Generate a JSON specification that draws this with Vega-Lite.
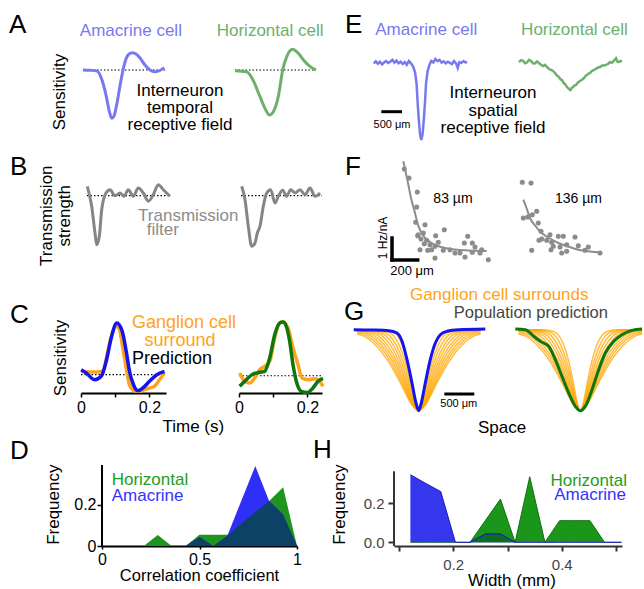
{
"$schema":"https://vega.github.io/schema/vega-lite/v6.json",
"padding":0,
"background":"white",
"bounds":"full",
"spacing":0,
"config":{"font":"Liberation Sans","view":{"stroke":null}},
"datasets":{
"gOrange":[
{"c":1,"x":-1030,"s":0},{"c":1,"x":-650,"s":0},{"c":1,"x":-470,"s":-0.015},{"c":1,"x":-360,"s":-0.07},{"c":1,"x":-275,"s":-0.19},{"c":1,"x":-190,"s":-0.4},{"c":1,"x":-110,"s":-0.68},{"c":1,"x":-45,"s":-0.92},{"c":1,"x":0,"s":-1},{"c":1,"x":45,"s":-0.92},{"c":1,"x":110,"s":-0.68},{"c":1,"x":190,"s":-0.4},{"c":1,"x":275,"s":-0.19},{"c":1,"x":360,"s":-0.07},{"c":1,"x":470,"s":-0.015},{"c":1,"x":650,"s":0},{"c":1,"x":1030,"s":0},
{"c":2,"x":-1030,"s":0},{"c":2,"x":-767,"s":0},{"c":2,"x":-555,"s":-0.015},{"c":2,"x":-425,"s":-0.07},{"c":2,"x":-325,"s":-0.19},{"c":2,"x":-224,"s":-0.4},{"c":2,"x":-130,"s":-0.68},{"c":2,"x":-53,"s":-0.92},{"c":2,"x":0,"s":-1},{"c":2,"x":53,"s":-0.92},{"c":2,"x":130,"s":-0.68},{"c":2,"x":224,"s":-0.4},{"c":2,"x":325,"s":-0.19},{"c":2,"x":425,"s":-0.07},{"c":2,"x":555,"s":-0.015},{"c":2,"x":767,"s":0},{"c":2,"x":1030,"s":0},
{"c":3,"x":-1030,"s":0},{"c":3,"x":-884,"s":0},{"c":3,"x":-639,"s":-0.015},{"c":3,"x":-490,"s":-0.07},{"c":3,"x":-374,"s":-0.19},{"c":3,"x":-258,"s":-0.4},{"c":3,"x":-150,"s":-0.68},{"c":3,"x":-61,"s":-0.92},{"c":3,"x":0,"s":-1},{"c":3,"x":61,"s":-0.92},{"c":3,"x":150,"s":-0.68},{"c":3,"x":258,"s":-0.4},{"c":3,"x":374,"s":-0.19},{"c":3,"x":490,"s":-0.07},{"c":3,"x":639,"s":-0.015},{"c":3,"x":884,"s":0},{"c":3,"x":1030,"s":0},
{"c":4,"x":-1030,"s":0},{"c":4,"x":-1001,"s":0},{"c":4,"x":-724,"s":-0.015},{"c":4,"x":-554,"s":-0.07},{"c":4,"x":-424,"s":-0.19},{"c":4,"x":-293,"s":-0.4},{"c":4,"x":-169,"s":-0.68},{"c":4,"x":-69,"s":-0.92},{"c":4,"x":0,"s":-1},{"c":4,"x":69,"s":-0.92},{"c":4,"x":169,"s":-0.68},{"c":4,"x":293,"s":-0.4},{"c":4,"x":424,"s":-0.19},{"c":4,"x":554,"s":-0.07},{"c":4,"x":724,"s":-0.015},{"c":4,"x":1001,"s":0},{"c":4,"x":1030,"s":0},
{"c":5,"x":-1030,"s":-0.004},{"c":5,"x":-808,"s":-0.015},{"c":5,"x":-619,"s":-0.07},{"c":5,"x":-473,"s":-0.19},{"c":5,"x":-327,"s":-0.4},{"c":5,"x":-189,"s":-0.68},{"c":5,"x":-77,"s":-0.92},{"c":5,"x":0,"s":-1},{"c":5,"x":77,"s":-0.92},{"c":5,"x":189,"s":-0.68},{"c":5,"x":327,"s":-0.4},{"c":5,"x":473,"s":-0.19},{"c":5,"x":619,"s":-0.07},{"c":5,"x":808,"s":-0.015},{"c":5,"x":1030,"s":-0.004},
{"c":6,"x":-1030,"s":-0.009},{"c":6,"x":-893,"s":-0.015},{"c":6,"x":-684,"s":-0.07},{"c":6,"x":-523,"s":-0.19},{"c":6,"x":-361,"s":-0.4},{"c":6,"x":-209,"s":-0.68},{"c":6,"x":-86,"s":-0.92},{"c":6,"x":0,"s":-1},{"c":6,"x":86,"s":-0.92},{"c":6,"x":209,"s":-0.68},{"c":6,"x":361,"s":-0.4},{"c":6,"x":523,"s":-0.19},{"c":6,"x":684,"s":-0.07},{"c":6,"x":893,"s":-0.015},{"c":6,"x":1030,"s":-0.009},
{"c":7,"x":-1030,"s":-0.013},{"c":7,"x":-978,"s":-0.015},{"c":7,"x":-749,"s":-0.07},{"c":7,"x":-572,"s":-0.19},{"c":7,"x":-395,"s":-0.4},{"c":7,"x":-229,"s":-0.68},{"c":7,"x":-94,"s":-0.92},{"c":7,"x":0,"s":-1},{"c":7,"x":94,"s":-0.92},{"c":7,"x":229,"s":-0.68},{"c":7,"x":395,"s":-0.4},{"c":7,"x":572,"s":-0.19},{"c":7,"x":749,"s":-0.07},{"c":7,"x":978,"s":-0.015},{"c":7,"x":1030,"s":-0.013},
{"c":8,"x":-1030,"s":-0.022},{"c":8,"x":-814,"s":-0.07},{"c":8,"x":-622,"s":-0.19},{"c":8,"x":-429,"s":-0.4},{"c":8,"x":-249,"s":-0.68},{"c":8,"x":-102,"s":-0.92},{"c":8,"x":0,"s":-1},{"c":8,"x":102,"s":-0.92},{"c":8,"x":249,"s":-0.68},{"c":8,"x":429,"s":-0.4},{"c":8,"x":622,"s":-0.19},{"c":8,"x":814,"s":-0.07},{"c":8,"x":1030,"s":-0.022},
{"c":9,"x":-1030,"s":-0.039},{"c":9,"x":-878,"s":-0.07},{"c":9,"x":-671,"s":-0.19},{"c":9,"x":-464,"s":-0.4},{"c":9,"x":-268,"s":-0.68},{"c":9,"x":-110,"s":-0.92},{"c":9,"x":0,"s":-1},{"c":9,"x":110,"s":-0.92},{"c":9,"x":268,"s":-0.68},{"c":9,"x":464,"s":-0.4},{"c":9,"x":671,"s":-0.19},{"c":9,"x":878,"s":-0.07},{"c":9,"x":1030,"s":-0.039},
{"c":10,"x":-1030,"s":-0.053},{"c":10,"x":-943,"s":-0.07},{"c":10,"x":-721,"s":-0.19},{"c":10,"x":-498,"s":-0.4},{"c":10,"x":-288,"s":-0.68},{"c":10,"x":-118,"s":-0.92},{"c":10,"x":0,"s":-1},{"c":10,"x":118,"s":-0.92},{"c":10,"x":288,"s":-0.68},{"c":10,"x":498,"s":-0.4},{"c":10,"x":721,"s":-0.19},{"c":10,"x":943,"s":-0.07},{"c":10,"x":1030,"s":-0.053}
]
},
"vconcat":[
{"bounds":"flush","spacing":0,"hconcat":[
{"width":200,"height":142,"layer":[
{"data":{"values":[{}]},"mark":{"type":"rule","color":"black","strokeDash":[1.5,2],"strokeWidth":1.2},"encoding":{"x":{"datum":0,"type":"quantitative","scale":{"domain":[-0.25305,0.35671],"nice":false,"zero":false},"axis":null},"x2":{"datum":0.25},"y":{"datum":0,"type":"quantitative","scale":{"domain":[-1.5,1.4583],"nice":false,"zero":false},"axis":null}}},
{"data":{"values":[{"t":0,"s":0},{"t":0.0213,"s":-0.006},{"t":0.0427,"s":-0.021},{"t":0.0579,"s":-0.208},{"t":0.0701,"s":-0.521},{"t":0.0793,"s":-0.833},{"t":0.0875,"s":-1.006},{"t":0.0945,"s":-0.958},{"t":0.1037,"s":-0.688},{"t":0.1128,"s":-0.333},{"t":0.122,"s":0},{"t":0.1311,"s":0.229},{"t":0.1402,"s":0.333},{"t":0.1515,"s":0.36},{"t":0.1616,"s":0.333},{"t":0.1738,"s":0.25},{"t":0.189,"s":0.104},{"t":0.2043,"s":0},{"t":0.2195,"s":-0.035},{"t":0.2348,"s":-0.01},{"t":0.247,"s":0.048}]},"mark":{"type":"line","color":"#7878f0","strokeWidth":3,"interpolate":"monotone"},"encoding":{"x":{"field":"t","type":"quantitative","axis":null},"y":{"field":"s","type":"quantitative","axis":null}}},
{"data":{"values":[{}]},"mark":{"type":"text","text":"A","fontSize":26,"align":"left","baseline":"alphabetic","color":"black"},"encoding":{"x":{"datum":-0.2256,"type":"quantitative","axis":null},"y":{"datum":0.771,"type":"quantitative","axis":null}}},
{"data":{"values":[{}]},"mark":{"type":"text","text":"Sensitivity","fontSize":17,"angle":270,"align":"center","baseline":"middle","color":"black"},"encoding":{"x":{"datum":-0.0701,"type":"quantitative","axis":null},"y":{"datum":-0.458,"type":"quantitative","axis":null}}},
{"data":{"values":[{}]},"mark":{"type":"text","text":"Amacrine cell","fontSize":17,"align":"center","baseline":"alphabetic","color":"#7878f0"},"encoding":{"x":{"datum":0.146,"type":"quantitative","axis":null},"y":{"datum":0.708,"type":"quantitative","axis":null}}},
{"data":{"values":[{}]},"mark":{"type":"text","text":"Interneuron","fontSize":17,"align":"center","baseline":"alphabetic","color":"black"},"encoding":{"x":{"datum":0.2957,"type":"quantitative","axis":null},"y":{"datum":-0.552,"type":"quantitative","axis":null}}},
{"data":{"values":[{}]},"mark":{"type":"text","text":"temporal","fontSize":17,"align":"center","baseline":"alphabetic","color":"black"},"encoding":{"x":{"datum":0.2957,"type":"quantitative","axis":null},"y":{"datum":-0.896,"type":"quantitative","axis":null}}},
{"data":{"values":[{}]},"mark":{"type":"text","text":"receptive field","fontSize":17,"align":"center","baseline":"alphabetic","color":"black"},"encoding":{"x":{"datum":0.2957,"type":"quantitative","axis":null},"y":{"datum":-1.24,"type":"quantitative","axis":null}}}
]},
{"width":122,"height":142,"layer":[
{"data":{"values":[{}]},"mark":{"type":"rule","color":"black","strokeDash":[1.5,2],"strokeWidth":1.2},"encoding":{"x":{"datum":0,"type":"quantitative","scale":{"domain":[-0.10671,0.26524],"nice":false,"zero":false},"axis":null},"x2":{"datum":0.247},"y":{"datum":0,"type":"quantitative","scale":{"domain":[-1.5,1.4583],"nice":false,"zero":false},"axis":null}}},
{"data":{"values":[{"t":0,"s":-0.015},{"t":0.0357,"s":-0.035},{"t":0.0549,"s":-0.208},{"t":0.0762,"s":-0.556},{"t":0.0966,"s":-0.869},{"t":0.1046,"s":-0.938},{"t":0.1168,"s":-0.869},{"t":0.132,"s":-0.556},{"t":0.1454,"s":0},{"t":0.1576,"s":0.277},{"t":0.1759,"s":0.431},{"t":0.193,"s":0.348},{"t":0.2134,"s":0.173},{"t":0.2339,"s":0.048},{"t":0.247,"s":0}]},"mark":{"type":"line","color":"#6cb06c","strokeWidth":3,"interpolate":"monotone"},"encoding":{"x":{"field":"t","type":"quantitative","axis":null},"y":{"field":"s","type":"quantitative","axis":null}}},
{"data":{"values":[{}]},"mark":{"type":"text","text":"Horizontal cell","fontSize":17,"align":"center","baseline":"alphabetic","color":"#6cb06c"},"encoding":{"x":{"datum":0.107,"type":"quantitative","axis":null},"y":{"datum":0.708,"type":"quantitative","axis":null}}}
]},
{"width":148,"height":142,"layer":[
{"data":{"values":[{"x":-1150,"s":0},{"x":-1100,"s":0.025},{"x":-1050,"s":-0.005},{"x":-1000,"s":0.02},{"x":-950,"s":-0.015},{"x":-900,"s":0.01},{"x":-850,"s":0.03},{"x":-800,"s":0.005},{"x":-750,"s":0.02},{"x":-700,"s":0.045},{"x":-650,"s":0.01},{"x":-600,"s":0.035},{"x":-550,"s":0},{"x":-500,"s":0.02},{"x":-450,"s":-0.01},{"x":-400,"s":0.015},{"x":-350,"s":-0.02},{"x":-300,"s":0.03},{"x":-250,"s":0},{"x":-200,"s":-0.04},{"x":-150,"s":-0.12},{"x":-115,"s":-0.26},{"x":-90,"s":-0.5},{"x":-60,"s":-0.74},{"x":-30,"s":-0.93},{"x":0,"s":-1},{"x":30,"s":-0.93},{"x":60,"s":-0.74},{"x":90,"s":-0.5},{"x":115,"s":-0.26},{"x":150,"s":-0.11},{"x":190,"s":-0.03},{"x":240,"s":0.03},{"x":290,"s":0.01},{"x":340,"s":0.055},{"x":390,"s":0.03},{"x":440,"s":0.045},{"x":490,"s":0.01},{"x":540,"s":0.025},{"x":590,"s":0},{"x":640,"s":0.02},{"x":690,"s":0.005},{"x":740,"s":-0.01},{"x":790,"s":0.03},{"x":840,"s":0},{"x":880,"s":-0.06},{"x":920,"s":0.015},{"x":970,"s":0.005},{"x":1020,"s":0.03},{"x":1070,"s":0.01},{"x":1104,"s":0.02}]},"mark":{"type":"line","color":"#7878f0","strokeWidth":2.5,"interpolate":"linear"},"encoding":{"x":{"field":"x","type":"quantitative","scale":{"domain":[-2398.1,1176.1],"nice":false,"zero":false},"axis":null},"y":{"field":"s","type":"quantitative","scale":{"domain":[-1.0261,0.8253],"nice":false,"zero":false},"axis":null}}},
{"data":{"values":[{}]},"mark":{"type":"rule","color":"black","strokeWidth":3},"encoding":{"x":{"datum":-966,"type":"quantitative","axis":null},"x2":{"datum":-466},"y":{"datum":-0.631,"type":"quantitative","axis":null}}},
{"data":{"values":[{}]},"mark":{"type":"text","text":"500 μm","fontSize":11,"align":"center","baseline":"alphabetic","color":"black"},"encoding":{"x":{"datum":-708,"type":"quantitative","axis":null},"y":{"datum":-0.844,"type":"quantitative","axis":null}}},
{"data":{"values":[{}]},"mark":{"type":"text","text":"E","fontSize":26,"align":"left","baseline":"alphabetic","color":"black"},"encoding":{"x":{"datum":-1843,"type":"quantitative","axis":null},"y":{"datum":0.395,"type":"quantitative","axis":null}}},
{"data":{"values":[{}]},"mark":{"type":"text","text":"Amacrine cell","fontSize":17,"align":"center","baseline":"alphabetic","color":"#7878f0"},"encoding":{"x":{"datum":118,"type":"quantitative","axis":null},"y":{"datum":0.369,"type":"quantitative","axis":null}}},
{"data":{"values":[{}]},"mark":{"type":"text","text":"Interneuron","fontSize":17,"align":"center","baseline":"alphabetic","color":"black"},"encoding":{"x":{"datum":1731,"type":"quantitative","axis":null},"y":{"datum":-0.452,"type":"quantitative","axis":null}}},
{"data":{"values":[{}]},"mark":{"type":"text","text":"spatial","fontSize":17,"align":"center","baseline":"alphabetic","color":"black"},"encoding":{"x":{"datum":1731,"type":"quantitative","axis":null},"y":{"datum":-0.681,"type":"quantitative","axis":null}}},
{"data":{"values":[{}]},"mark":{"type":"text","text":"receptive field","fontSize":17,"align":"center","baseline":"alphabetic","color":"black"},"encoding":{"x":{"datum":1731,"type":"quantitative","axis":null},"y":{"datum":-0.909,"type":"quantitative","axis":null}}}
]},
{"width":174,"height":142,"layer":[
{"data":{"values":[{"x":-1239,"s":0.017},{"x":-1190,"s":0.04},{"x":-1142,"s":0.036},{"x":-1094,"s":0},{"x":-1046,"s":0.01},{"x":-997,"s":0.045},{"x":-949,"s":0.03},{"x":-900,"s":0},{"x":-853,"s":-0.003},{"x":-805,"s":0.025},{"x":-756,"s":0.004},{"x":-708,"s":-0.02},{"x":-659,"s":-0.035},{"x":-611,"s":-0.02},{"x":-563,"s":-0.048},{"x":-514,"s":-0.075},{"x":-466,"s":-0.087},{"x":-418,"s":-0.1},{"x":-369,"s":-0.126},{"x":-320,"s":-0.16},{"x":-273,"s":-0.179},{"x":-236,"s":-0.21},{"x":-200,"s":-0.218},{"x":-164,"s":-0.255},{"x":-128,"s":-0.27},{"x":-92,"s":-0.3},{"x":-56,"s":-0.322},{"x":-20,"s":-0.34},{"x":5,"s":-0.348},{"x":35,"s":-0.32},{"x":65,"s":-0.309},{"x":100,"s":-0.29},{"x":138,"s":-0.283},{"x":186,"s":-0.25},{"x":234,"s":-0.231},{"x":283,"s":-0.215},{"x":331,"s":-0.192},{"x":379,"s":-0.16},{"x":427,"s":-0.14},{"x":476,"s":-0.125},{"x":524,"s":-0.1},{"x":572,"s":-0.085},{"x":621,"s":-0.074},{"x":669,"s":-0.055},{"x":717,"s":-0.048},{"x":766,"s":-0.03},{"x":814,"s":-0.029},{"x":862,"s":-0.02},{"x":910,"s":-0.009},{"x":958,"s":0.015},{"x":1007,"s":0.01},{"x":1055,"s":0.035},{"x":1104,"s":0.065},{"x":1140,"s":0.02},{"x":1176,"s":0.017},{"x":1212,"s":0.03},{"x":1249,"s":0.023}]},"mark":{"type":"line","color":"#6cb06c","strokeWidth":2.5,"interpolate":"linear"},"encoding":{"x":{"field":"x","type":"quantitative","scale":{"domain":[-2422.2,1779.9],"nice":false,"zero":false},"axis":null},"y":{"field":"s","type":"quantitative","scale":{"domain":[-1.0261,0.8253],"nice":false,"zero":false},"axis":null}}},
{"data":{"values":[{}]},"mark":{"type":"text","text":"Horizontal cell","fontSize":17,"align":"center","baseline":"alphabetic","color":"#6cb06c"},"encoding":{"x":{"datum":101,"type":"quantitative","axis":null},"y":{"datum":0.369,"type":"quantitative","axis":null}}}
]}
]},
{"bounds":"flush","spacing":0,"hconcat":[
{"width":200,"height":138,"layer":[
{"data":{"values":[{}]},"mark":{"type":"rule","color":"black","strokeDash":[1.5,2],"strokeWidth":1.2},"encoding":{"x":{"datum":0,"type":"quantitative","scale":{"domain":[-0.26524,0.34451],"nice":false,"zero":false},"axis":null},"x2":{"datum":0.247},"y":{"datum":0,"type":"quantitative","scale":{"domain":[-1.782,1.0347],"nice":false,"zero":false},"axis":null}}},
{"data":{"values":[{"t":0.0009,"s":0.192},{"t":0.0143,"s":-0.216},{"t":0.0244,"s":-0.761},{"t":0.0296,"s":-1},{"t":0.0375,"s":-0.829},{"t":0.0448,"s":-0.286},{"t":0.0579,"s":0.055},{"t":0.0701,"s":0.122},{"t":0.0854,"s":0},{"t":0.1006,"s":0.055},{"t":0.1128,"s":-0.012},{"t":0.1259,"s":0.122},{"t":0.1412,"s":-0.012},{"t":0.1564,"s":0.157},{"t":0.1716,"s":0.055},{"t":0.1869,"s":-0.114},{"t":0.2021,"s":0.02},{"t":0.2174,"s":0.224},{"t":0.2326,"s":0.122},{"t":0.253,"s":-0.012}]},"mark":{"type":"line","color":"#858585","strokeWidth":3,"interpolate":"monotone"},"encoding":{"x":{"field":"t","type":"quantitative","axis":null},"y":{"field":"s","type":"quantitative","axis":null}}},
{"data":{"values":[{}]},"mark":{"type":"text","text":"B","fontSize":26,"align":"left","baseline":"alphabetic","color":"black"},"encoding":{"x":{"datum":-0.2348,"type":"quantitative","axis":null},"y":{"datum":0.429,"type":"quantitative","axis":null}}},
{"data":{"values":[{}]},"mark":{"type":"text","text":"Transmission","fontSize":17,"angle":270,"align":"center","baseline":"middle","color":"black"},"encoding":{"x":{"datum":-0.1229,"type":"quantitative","axis":null},"y":{"datum":-0.408,"type":"quantitative","axis":null}}},
{"data":{"values":[{}]},"mark":{"type":"text","text":"strength","fontSize":17,"angle":270,"align":"center","baseline":"middle","color":"black"},"encoding":{"x":{"datum":-0.0671,"type":"quantitative","axis":null},"y":{"datum":-0.408,"type":"quantitative","axis":null}}},
{"data":{"values":[{}]},"mark":{"type":"text","text":"Transmission","fontSize":17,"align":"center","baseline":"alphabetic","color":"#8c8c8c"},"encoding":{"x":{"datum":0.3088,"type":"quantitative","axis":null},"y":{"datum":-0.522,"type":"quantitative","axis":null}}},
{"data":{"values":[{}]},"mark":{"type":"text","text":"filter","fontSize":17,"align":"left","baseline":"alphabetic","color":"#8c8c8c"},"encoding":{"x":{"datum":0.182,"type":"quantitative","axis":null},"y":{"datum":-0.796,"type":"quantitative","axis":null}}}
]},
{"width":122,"height":138,"layer":[
{"data":{"values":[{}]},"mark":{"type":"rule","color":"black","strokeDash":[1.5,2],"strokeWidth":1.2},"encoding":{"x":{"datum":0,"type":"quantitative","scale":{"domain":[-0.125,0.24695],"nice":false,"zero":false},"axis":null},"x2":{"datum":0.247},"y":{"datum":0,"type":"quantitative","scale":{"domain":[-1.782,1.0347],"nice":false,"zero":false},"axis":null}}},
{"data":{"values":[{"t":0.0021,"s":0.192},{"t":0.0122,"s":-0.082},{"t":0.0223,"s":-0.624},{"t":0.0326,"s":-1.033},{"t":0.0427,"s":-0.965},{"t":0.0497,"s":-0.761},{"t":0.0579,"s":-0.624},{"t":0.068,"s":-0.216},{"t":0.0784,"s":0.055},{"t":0.0905,"s":0.122},{"t":0.1037,"s":-0.149},{"t":0.1137,"s":-0.012},{"t":0.1271,"s":0.11},{"t":0.1393,"s":-0.012},{"t":0.1515,"s":0.122},{"t":0.1646,"s":0.055},{"t":0.1799,"s":0.122},{"t":0.1951,"s":0.02},{"t":0.2104,"s":0.157},{"t":0.2256,"s":-0.012},{"t":0.2409,"s":0.055}]},"mark":{"type":"line","color":"#858585","strokeWidth":3,"interpolate":"monotone"},"encoding":{"x":{"field":"t","type":"quantitative","axis":null},"y":{"field":"s","type":"quantitative","axis":null}}}
]},
{"width":183,"height":138,"layer":[
{"data":{"values":[{"d":64.6,"h":4.486},{"d":101.1,"h":3.5},{"d":124.5,"h":2.818},{"d":155.6,"h":2.136},{"d":178.9,"h":1.591},{"d":207.7,"h":1.227},{"d":241.2,"h":0.955},{"d":285.5,"h":0.773},{"d":334.5,"h":0.636},{"d":389,"h":0.545},{"d":466.8,"h":0.477},{"d":544.6,"h":0.441},{"d":622.4,"h":0.423},{"d":713.4,"h":0.409}]},"mark":{"type":"line","color":"#8c8c8c","strokeWidth":2,"interpolate":"monotone"},"encoding":{"x":{"field":"d","type":"quantitative","scale":{"domain":[-567.9,855.8],"nice":false,"zero":false},"axis":null},"y":{"field":"h","type":"quantitative","scale":{"domain":[-1.045,5.227],"nice":false,"zero":false},"axis":null}}},
{"data":{"values":[{"d":72.4,"h":4.136},{"d":108.9,"h":3.727},{"d":173.5,"h":3.091},{"d":168.8,"h":2.409},{"d":161,"h":1.714},{"d":233.4,"h":1.605},{"d":181.3,"h":1.15},{"d":220.2,"h":1.227},{"d":202.3,"h":0.955},{"d":246.6,"h":0.895},{"d":316.6,"h":1.105},{"d":383.6,"h":1.377},{"d":228,"h":0.741},{"d":272.3,"h":0.695},{"d":311.2,"h":0.623},{"d":194.5,"h":0.468},{"d":254.4,"h":0.441},{"d":285.5,"h":0.468},{"d":375.8,"h":0.441},{"d":311.2,"h":0.091},{"d":466.8,"h":0.318},{"d":505.7,"h":0.318},{"d":539.2,"h":0.773},{"d":565.6,"h":1.077},{"d":601.4,"h":0.773},{"d":622.4,"h":0.591},{"d":601.4,"h":0.35},{"d":661.3,"h":0.318},{"d":544.6,"h":0.136},{"d":725.9,"h":0.014},{"d":176.6,"h":1.105},{"d":336.9,"h":0.805},{"d":427.9,"h":0.468},{"d":674.5,"h":0.468}]},"mark":{"type":"circle","color":"#8c8c8c","size":26,"opacity":1},"encoding":{"x":{"field":"d","type":"quantitative","axis":null},"y":{"field":"h","type":"quantitative","axis":null}}},
{"data":{"values":[{}]},"mark":{"type":"rule","color":"black","strokeWidth":3.5,"strokeCap":"square"},"encoding":{"x":{"datum":-23.3,"type":"quantitative","axis":null},"y":{"datum":0,"type":"quantitative","axis":null},"y2":{"datum":1}}},
{"data":{"values":[{}]},"mark":{"type":"rule","color":"black","strokeWidth":3.5,"strokeCap":"square"},"encoding":{"x":{"datum":-23.3,"type":"quantitative","axis":null},"x2":{"datum":176.7},"y":{"datum":0,"type":"quantitative","axis":null}}},
{"data":{"values":[{}]},"mark":{"type":"text","text":"F","fontSize":26,"align":"left","baseline":"alphabetic","color":"black"},"encoding":{"x":{"datum":-389,"type":"quantitative","axis":null},"y":{"datum":3.877,"type":"quantitative","axis":null}}},
{"data":{"values":[{}]},"mark":{"type":"text","text":"83 µm","fontSize":14,"align":"center","baseline":"alphabetic","color":"black"},"encoding":{"x":{"datum":451,"type":"quantitative","axis":null},"y":{"datum":2.59,"type":"quantitative","axis":null}}},
{"data":{"values":[{}]},"mark":{"type":"text","text":"1 Hz/nA","fontSize":12,"angle":270,"align":"center","baseline":"middle","color":"black"},"encoding":{"x":{"datum":-89.5,"type":"quantitative","axis":null},"y":{"datum":1.0,"type":"quantitative","axis":null}}},
{"data":{"values":[{}]},"mark":{"type":"text","text":"200 μm","fontSize":13,"align":"left","baseline":"alphabetic","color":"black"},"encoding":{"x":{"datum":-36.6,"type":"quantitative","axis":null},"y":{"datum":-0.668,"type":"quantitative","axis":null}}}
]},
{"width":139,"height":138,"layer":[
{"data":{"values":[{"d":64.6,"h":2.741},{"d":89.5,"h":2.364},{"d":116.7,"h":1.909},{"d":155.6,"h":1.568},{"d":207.7,"h":1.227},{"d":272.3,"h":0.977},{"d":336.9,"h":0.773},{"d":412.3,"h":0.614},{"d":492.5,"h":0.468},{"d":567.9,"h":0.395},{"d":648.1,"h":0.35}]},"mark":{"type":"line","color":"#8c8c8c","strokeWidth":2,"interpolate":"monotone"},"encoding":{"x":{"field":"d","type":"quantitative","scale":{"domain":[-77.8,1003.6],"nice":false,"zero":false},"axis":null},"y":{"field":"h","type":"quantitative","scale":{"domain":[-1.045,5.227],"nice":false,"zero":false},"axis":null}}},
{"data":{"values":[{"d":56.8,"h":3.532},{"d":124.5,"h":3.5},{"d":64.6,"h":1.909},{"d":98.8,"h":1.955},{"d":134.6,"h":2.059},{"d":168.8,"h":2.214},{"d":181.3,"h":1.682},{"d":202.3,"h":1.305},{"d":272.3,"h":1.15},{"d":336.9,"h":1.077},{"d":375.8,"h":1.077},{"d":207.7,"h":0.955},{"d":246.6,"h":0.895},{"d":285.5,"h":0.805},{"d":186.7,"h":0.895},{"d":298,"h":0.623},{"d":350.1,"h":0.591},{"d":402.2,"h":0.695},{"d":466.8,"h":1.045},{"d":492.5,"h":0.65},{"d":570.3,"h":0.591},{"d":544.6,"h":0.441},{"d":402.2,"h":0.395},{"d":363.3,"h":0.318},{"d":280.1,"h":0.468},{"d":129.9,"h":0.441},{"d":661.3,"h":0.318}]},"mark":{"type":"circle","color":"#8c8c8c","size":26,"opacity":1},"encoding":{"x":{"field":"d","type":"quantitative","axis":null},"y":{"field":"h","type":"quantitative","axis":null}}},
{"data":{"values":[{}]},"mark":{"type":"text","text":"136 µm","fontSize":14,"align":"center","baseline":"alphabetic","color":"black"},"encoding":{"x":{"datum":494,"type":"quantitative","axis":null},"y":{"datum":2.59,"type":"quantitative","axis":null}}}
]}
]},
{"bounds":"flush","spacing":0,"hconcat":[
{"width":81,"height":154,"layer":[
{"data":{"values":[{}]},"mark":{"type":"rule","color":"black","strokeDash":[1.5,2],"strokeWidth":1.2},"encoding":{"x":{"datum":0,"type":"quantitative","scale":{"domain":[-0.2365,0],"nice":false,"zero":false},"axis":null},"x2":{"datum":0.2438},"y":{"datum":0,"type":"quantitative","scale":{"domain":[-1.189,1.75],"nice":false,"zero":false},"axis":null}}},
{"data":{"values":[{}]},"mark":{"type":"text","text":"C","fontSize":26,"align":"left","baseline":"alphabetic","color":"black"},"encoding":{"x":{"datum":-0.207,"type":"quantitative","axis":null},"y":{"datum":0.987,"type":"quantitative","axis":null}}},
{"data":{"values":[{}]},"mark":{"type":"text","text":"Sensitivity","fontSize":17,"angle":270,"align":"center","baseline":"middle","color":"black"},"encoding":{"x":{"datum":-0.059,"type":"quantitative","axis":null},"y":{"datum":0.319,"type":"quantitative","axis":null}}},
{"data":{"values":[{}]},"mark":{"type":"text","text":"Time (s)","fontSize":17,"align":"center","baseline":"alphabetic","color":"black"},"encoding":{"x":{"datum":0.328,"type":"quantitative","axis":null},"y":{"datum":-1.093,"type":"quantitative","axis":null}}}
]},
{"width":85,"height":110,
"encoding":{"x":{"field":"t","type":"quantitative","scale":{"domain":[0,0.24818],"nice":false,"zero":false},"axis":{"values":[0,0.1,0.2],"labelExpr":"datum.value < 0.05 ? '0' : (datum.value > 0.15 ? '0.2' : '')","title":null,"grid":false,"domainColor":"black","domainWidth":2,"tickColor":"black","tickWidth":1.5,"tickSize":4,"labelFontSize":16,"labelColor":"black","labelPadding":2,"labelFlush":false,"labelOverlap":false}},"y":{"field":"s","type":"quantitative","scale":{"domain":[-0.349,1.75],"nice":false,"zero":false},"axis":null}},
"layer":[
{"data":{"values":[{"t":0.0006,"s":0.065},{"t":0.0248,"s":0.052},{"t":0.0491,"s":0.052},{"t":0.0636,"s":0.065},{"t":0.0782,"s":0.447},{"t":0.0928,"s":0.828},{"t":0.1028,"s":0.924},{"t":0.1124,"s":0.859},{"t":0.122,"s":0.51},{"t":0.132,"s":0.128},{"t":0.1416,"s":-0.191},{"t":0.1562,"s":-0.305},{"t":0.1708,"s":-0.317},{"t":0.1854,"s":-0.286},{"t":0.2,"s":-0.254},{"t":0.2146,"s":-0.221},{"t":0.2292,"s":-0.095},{"t":0.2438,"s":0.032}]},"mark":{"type":"line","color":"#ffa31a","strokeWidth":3.5,"interpolate":"monotone"}},
{"data":{"values":[{"t":0.0006,"s":0.095},{"t":0.0152,"s":0.032},{"t":0.0394,"s":-0.095},{"t":0.059,"s":-0.031},{"t":0.0736,"s":0.256},{"t":0.0882,"s":0.7},{"t":0.1045,"s":0.987},{"t":0.1203,"s":0.828},{"t":0.132,"s":0.447},{"t":0.1416,"s":0.065},{"t":0.1533,"s":-0.191},{"t":0.1658,"s":-0.305},{"t":0.1804,"s":-0.254},{"t":0.2,"s":-0.126},{"t":0.2213,"s":0},{"t":0.2438,"s":0.065}]},"mark":{"type":"line","color":"#1414ee","strokeWidth":3.5,"interpolate":"monotone"}}
]},
{"width":73,"height":110,"layer":[
{"data":{"values":[{}]},"mark":{"type":"rule","color":"black","strokeDash":[1.5,2],"strokeWidth":1.2},"encoding":{"x":{"datum":0,"type":"quantitative","scale":{"domain":[-0.21314,0],"nice":false,"zero":false},"axis":null},"x2":{"datum":0.2423},"y":{"datum":-0.02,"type":"quantitative","scale":{"domain":[-0.349,1.75],"nice":false,"zero":false},"axis":null}}},
{"data":{"values":[{}]},"mark":{"type":"text","text":"Ganglion cell","fontSize":18,"align":"center","baseline":"alphabetic","color":"#ffa31a"},"encoding":{"x":{"datum":-0.1606,"type":"quantitative","axis":null},"y":{"datum":0.891,"type":"quantitative","axis":null}}},
{"data":{"values":[{}]},"mark":{"type":"text","text":"surround","fontSize":18,"align":"center","baseline":"alphabetic","color":"#ffa31a"},"encoding":{"x":{"datum":-0.1723,"type":"quantitative","axis":null},"y":{"datum":0.542,"type":"quantitative","axis":null}}},
{"data":{"values":[{}]},"mark":{"type":"text","text":"Prediction","fontSize":18,"align":"center","baseline":"alphabetic","color":"black"},"encoding":{"x":{"datum":-0.1956,"type":"quantitative","axis":null},"y":{"datum":0.21,"type":"quantitative","axis":null}}}
]},
{"width":83,"height":110,
"encoding":{"x":{"field":"t","type":"quantitative","scale":{"domain":[0,0.24234],"nice":false,"zero":false},"axis":{"values":[0,0.1,0.2],"labelExpr":"datum.value < 0.05 ? '0' : (datum.value > 0.15 ? '0.2' : '')","title":null,"grid":false,"domainColor":"black","domainWidth":2,"tickColor":"black","tickWidth":1.5,"tickSize":4,"labelFontSize":16,"labelColor":"black","labelPadding":2,"labelFlush":false,"labelOverlap":false}},"y":{"field":"s","type":"quantitative","scale":{"domain":[-0.349,1.75],"nice":false,"zero":false},"axis":null}},
"layer":[
{"data":{"values":[{"t":0.002,"s":0.032},{"t":0.0166,"s":-0.126},{"t":0.0312,"s":-0.158},{"t":0.0458,"s":-0.063},{"t":0.0604,"s":0.095},{"t":0.075,"s":0.16},{"t":0.0896,"s":0.256},{"t":0.1042,"s":0.7},{"t":0.1188,"s":0.987},{"t":0.1285,"s":1.006},{"t":0.1431,"s":0.891},{"t":0.1577,"s":0.51},{"t":0.1723,"s":0.191},{"t":0.1839,"s":-0.063},{"t":0.2015,"s":-0.095},{"t":0.221,"s":-0.076},{"t":0.2356,"s":-0.126},{"t":0.2453,"s":-0.221}]},"mark":{"type":"line","color":"#ffa31a","strokeWidth":3.5,"interpolate":"monotone"}},
{"data":{"values":[{"t":0.002,"s":-0.221},{"t":0.0213,"s":-0.095},{"t":0.0409,"s":0.013},{"t":0.0604,"s":0.046},{"t":0.075,"s":0.065},{"t":0.0896,"s":0.319},{"t":0.1042,"s":0.763},{"t":0.1188,"s":0.987},{"t":0.1285,"s":1.006},{"t":0.1381,"s":0.924},{"t":0.148,"s":0.637},{"t":0.1577,"s":0.191},{"t":0.1673,"s":-0.126},{"t":0.1819,"s":-0.317},{"t":0.1994,"s":-0.34},{"t":0.2161,"s":-0.254},{"t":0.2307,"s":-0.126},{"t":0.2453,"s":-0.069}]},"mark":{"type":"line","color":"#0e760e","strokeWidth":3.5,"interpolate":"monotone"}}
]},
{"width":178,"height":110,"layer":[
{"data":{"name":"gOrange"},"mark":{"type":"line","color":"#ffa500","strokeWidth":1.5,"opacity":0.75,"interpolate":"monotone"},"encoding":{"x":{"field":"x","type":"quantitative","scale":{"domain":[-1612,1355],"nice":false,"zero":false},"axis":null},"y":{"field":"s","type":"quantitative","scale":{"domain":[-0.7815,0.5765],"nice":false,"zero":false},"axis":null},"detail":{"field":"c","type":"nominal"}}},
{"data":{"values":[{"x":-1083,"s":0},{"x":-778,"s":-0.004},{"x":-500,"s":-0.012},{"x":-362,"s":-0.041},{"x":-278,"s":-0.143},{"x":-195,"s":-0.37},{"x":-112,"s":-0.658},{"x":-45,"s":-0.905},{"x":0,"s":-1},{"x":43,"s":-0.905},{"x":110,"s":-0.658},{"x":193,"s":-0.37},{"x":277,"s":-0.164},{"x":360,"s":-0.062},{"x":472,"s":-0.02},{"x":667,"s":0},{"x":1110,"s":0.009}]},"mark":{"type":"line","color":"#1414ee","strokeWidth":3,"interpolate":"monotone"},"encoding":{"x":{"field":"x","type":"quantitative","axis":null},"y":{"field":"s","type":"quantitative","axis":null}}},
{"data":{"values":[{}]},"mark":{"type":"rule","color":"black","strokeWidth":3},"encoding":{"x":{"datum":427,"type":"quantitative","axis":null},"x2":{"datum":927},"y":{"datum":-0.794,"type":"quantitative","axis":null}}},
{"data":{"values":[{}]},"mark":{"type":"text","text":"500 μm","fontSize":11,"align":"center","baseline":"alphabetic","color":"black"},"encoding":{"x":{"datum":667,"type":"quantitative","axis":null},"y":{"datum":-0.954,"type":"quantitative","axis":null}}},
{"data":{"values":[{}]},"mark":{"type":"text","text":"G","fontSize":26,"align":"left","baseline":"alphabetic","color":"black"},"encoding":{"x":{"datum":-1245,"type":"quantitative","axis":null},"y":{"datum":0.123,"type":"quantitative","axis":null}}},
{"data":{"values":[{}]},"mark":{"type":"text","text":"Ganglion cell surrounds","fontSize":17,"align":"center","baseline":"alphabetic","color":"#ffa31a"},"encoding":{"x":{"datum":1342,"type":"quantitative","axis":null},"y":{"datum":0.37,"type":"quantitative","axis":null}}},
{"data":{"values":[{}]},"mark":{"type":"text","text":"Population prediction","fontSize":16.5,"align":"center","baseline":"alphabetic","color":"#444444"},"encoding":{"x":{"datum":1869,"type":"quantitative","axis":null},"y":{"datum":0.144,"type":"quantitative","axis":null}}},
{"data":{"values":[{}]},"mark":{"type":"text","text":"Space","fontSize":17,"align":"center","baseline":"alphabetic","color":"black"},"encoding":{"x":{"datum":1389,"type":"quantitative","axis":null},"y":{"datum":-1.275,"type":"quantitative","axis":null}}}
]},
{"width":144,"height":110,"layer":[
{"data":{"name":"gOrange"},"mark":{"type":"line","color":"#ffa500","strokeWidth":1.5,"opacity":0.75,"interpolate":"monotone"},"encoding":{"x":{"field":"x","type":"quantitative","scale":{"domain":[-1339,1062],"nice":false,"zero":false},"axis":null},"y":{"field":"s","type":"quantitative","scale":{"domain":[-0.7815,0.5765],"nice":false,"zero":false},"axis":null},"detail":{"field":"c","type":"nominal"}}},
{"data":{"values":[{"x":-1084,"s":0.009},{"x":-917,"s":0},{"x":-777,"s":-0.081},{"x":-667,"s":-0.143},{"x":-527,"s":-0.205},{"x":-417,"s":-0.37},{"x":-305,"s":-0.576},{"x":-193,"s":-0.782},{"x":-83,"s":-0.947},{"x":0,"s":-1},{"x":83,"s":-0.947},{"x":195,"s":-0.741},{"x":307,"s":-0.494},{"x":417,"s":-0.288},{"x":557,"s":-0.144},{"x":695,"s":-0.062},{"x":862,"s":-0.008},{"x":1029,"s":0.009}]},"mark":{"type":"line","color":"#0e760e","strokeWidth":3,"interpolate":"monotone"},"encoding":{"x":{"field":"x","type":"quantitative","axis":null},"y":{"field":"s","type":"quantitative","axis":null}}}
]}
]},
{"bounds":"flush","spacing":0,"hconcat":[
{"width":102,"height":155,"layer":[
{"data":{"values":[{}]},"mark":{"type":"rule","color":"black","strokeWidth":2},"encoding":{"x":{"datum":0,"type":"quantitative","scale":{"domain":[-0.52308,0],"nice":false,"zero":false},"axis":null},"y":{"datum":0,"type":"quantitative","scale":{"domain":[-0.2244,0.5317],"nice":false,"zero":false},"axis":null},"y2":{"datum":0.395}}},
{"data":{"values":[{}]},"mark":{"type":"text","text":"D","fontSize":26,"align":"left","baseline":"alphabetic","color":"black"},"encoding":{"x":{"datum":-0.4718,"type":"quantitative","axis":null},"y":{"datum":0.4244,"type":"quantitative","axis":null}}},
{"data":{"values":[{}]},"mark":{"type":"text","text":"Frequency","fontSize":17,"angle":270,"align":"center","baseline":"middle","color":"black"},"encoding":{"x":{"datum":-0.246,"type":"quantitative","axis":null},"y":{"datum":0.2015,"type":"quantitative","axis":null}}},
{"data":{"values":[{}]},"mark":{"type":"text","text":"Correlation coefficient","fontSize":16.5,"align":"center","baseline":"alphabetic","color":"black"},"encoding":{"x":{"datum":0.5,"type":"quantitative","axis":null},"y":{"datum":-0.171,"type":"quantitative","axis":null}}},
{"data":{"values":[{}]},"mark":{"type":"text","text":"Horizontal","fontSize":17,"align":"left","baseline":"alphabetic","color":"#1e9e1e"},"encoding":{"x":{"datum":0.0497,"type":"quantitative","axis":null},"y":{"datum":0.296,"type":"quantitative","axis":null}}},
{"data":{"values":[{}]},"mark":{"type":"text","text":"Amacrine","fontSize":17,"align":"left","baseline":"alphabetic","color":"#3333ff"},"encoding":{"x":{"datum":0.0497,"type":"quantitative","axis":null},"y":{"datum":0.218,"type":"quantitative","axis":null}}}
]},
{"width":195,"height":109,
"encoding":{"x":{"field":"r","type":"quantitative","scale":{"domain":[0,1],"nice":false,"zero":false},"axis":{"values":[0,0.5,1],"labelExpr":"datum.value < 0.25 ? '0' : (datum.value > 0.75 ? '1' : '0.5')","title":null,"grid":false,"domainColor":"black","domainWidth":2,"tickColor":"black","tickWidth":1.5,"tickSize":3,"labelFontSize":16,"labelColor":"black","labelPadding":2,"labelFlush":false,"labelOverlap":false}},"y":{"field":"f","type":"quantitative","scale":{"domain":[0,0.5317],"nice":false,"zero":false},"axis":{"values":[0,0.2],"labelExpr":"datum.value < 0.1 ? '0' : '0.2'","title":null,"grid":false,"domain":false,"tickColor":"black","tickWidth":1.5,"tickSize":5,"labelFontSize":16,"labelColor":"black","labelPadding":1,"labelFlush":false,"labelOverlap":false}},"y2":{"datum":0}},
"layer":[
{"data":{"values":[{"r":0.214,"f":0},{"r":0.286,"f":0.054},{"r":0.357,"f":0},{"r":0.429,"f":0},{"r":0.5,"f":0.055},{"r":0.571,"f":0.055},{"r":0.643,"f":0.055},{"r":0.714,"f":0.11},{"r":0.786,"f":0.165},{"r":0.857,"f":0.22},{"r":0.929,"f":0.286},{"r":1,"f":0}]},"mark":{"type":"area","color":"#1e961e","opacity":1}},
{"data":{"values":[{"r":0.429,"f":0},{"r":0.5,"f":0.044},{"r":0.571,"f":0},{"r":0.643,"f":0.05},{"r":0.714,"f":0.22},{"r":0.786,"f":0.39},{"r":0.857,"f":0.22},{"r":0.929,"f":0.153},{"r":1,"f":0}]},"mark":{"type":"area","color":"#2f2ff8","opacity":1}},
{"data":{"values":[{"r":0.429,"f":0},{"r":0.5,"f":0.044},{"r":0.571,"f":0},{"r":0.643,"f":0.05},{"r":0.714,"f":0.11},{"r":0.786,"f":0.165},{"r":0.857,"f":0.22},{"r":0.929,"f":0.153},{"r":1,"f":0}]},"mark":{"type":"area","color":"#0c4266","opacity":1}}
]},
{"width":97,"height":155,"layer":[
{"data":{"values":[{}]},"mark":{"type":"rule","color":"#333333","strokeWidth":2},"encoding":{"x":{"datum":0.09078,"type":"quantitative","scale":{"domain":[-0.08802,0.09078],"nice":false,"zero":false},"axis":null},"y":{"datum":-0.0188,"type":"quantitative","scale":{"domain":[-0.2529,0.5359],"nice":false,"zero":false},"axis":null},"y2":{"datum":0.361}}},
{"data":{"values":[{}]},"mark":{"type":"text","text":"H","fontSize":26,"align":"left","baseline":"alphabetic","color":"black"},"encoding":{"x":{"datum":-0.0585,"type":"quantitative","axis":null},"y":{"datum":0.429,"type":"quantitative","axis":null}}},
{"data":{"values":[{}]},"mark":{"type":"text","text":"Frequency","fontSize":17,"angle":270,"align":"center","baseline":"middle","color":"black"},"encoding":{"x":{"datum":-0.0082,"type":"quantitative","axis":null},"y":{"datum":0.1913,"type":"quantitative","axis":null}}},
{"data":{"values":[{}]},"mark":{"type":"text","text":"Width (mm)","fontSize":17,"align":"center","baseline":"alphabetic","color":"black"},"encoding":{"x":{"datum":0.30829,"type":"quantitative","axis":null},"y":{"datum":-0.2224,"type":"quantitative","axis":null}}},
{"data":{"values":[{}]},"mark":{"type":"text","text":"Horizontal","fontSize":17,"align":"right","baseline":"alphabetic","color":"#1e9e1e"},"encoding":{"x":{"datum":0.52027,"type":"quantitative","axis":null},"y":{"datum":0.288,"type":"quantitative","axis":null}}},
{"data":{"values":[{}]},"mark":{"type":"text","text":"Amacrine","fontSize":17,"align":"right","baseline":"alphabetic","color":"#3333ff"},"encoding":{"x":{"datum":0.51843,"type":"quantitative","axis":null},"y":{"datum":0.2137,"type":"quantitative","axis":null}}}
]},
{"width":228,"height":109,
"encoding":{"x":{"field":"w","type":"quantitative","scale":{"domain":[0.09078,0.51106],"nice":false,"zero":false},"axis":{"values":[0.1,0.2,0.3,0.4,0.5],"labelExpr":"abs(datum.value-0.2) < 0.01 ? '0.2' : (abs(datum.value-0.4) < 0.01 ? '0.4' : '')","title":null,"grid":false,"domainColor":"#333333","domainWidth":2,"tickColor":"#333333","tickWidth":2,"tickSize":5,"labelFontSize":15,"labelColor":"#444444","labelPadding":6,"labelFlush":false,"labelOverlap":false}},"y":{"field":"f","type":"quantitative","scale":{"domain":[-0.0188,0.5359],"nice":false,"zero":false},"axis":{"values":[0,0.2],"format":".1f","title":null,"grid":false,"domain":false,"tickColor":"#333333","tickWidth":2,"tickSize":6,"labelFontSize":15,"labelColor":"#444444","labelPadding":4,"labelFlush":false,"labelOverlap":false}},"y2":{"datum":0}},
"layer":[
{"data":{"values":[{"w":0.121,"f":0},{"w":0.149,"f":0},{"w":0.177,"f":0},{"w":0.204,"f":0},{"w":0.231,"f":0},{"w":0.259,"f":0.11},{"w":0.287,"f":0.22},{"w":0.314,"f":0},{"w":0.341,"f":0.334},{"w":0.369,"f":0},{"w":0.396,"f":0.11},{"w":0.424,"f":0.11},{"w":0.452,"f":0.11},{"w":0.479,"f":0},{"w":0.51,"f":0}]},"mark":{"type":"area","color":"#1a961a","opacity":1,"line":{"color":"#117011","strokeWidth":1}}},
{"data":{"values":[{"w":0.121,"f":0.344},{"w":0.149,"f":0.3},{"w":0.177,"f":0.258},{"w":0.204,"f":0},{"w":0.231,"f":0},{"w":0.259,"f":0.042},{"w":0.287,"f":0.042},{"w":0.314,"f":0},{"w":0.341,"f":0},{"w":0.369,"f":0},{"w":0.396,"f":0},{"w":0.424,"f":0},{"w":0.452,"f":0},{"w":0.479,"f":0},{"w":0.51,"f":0}]},"mark":{"type":"area","color":"#3636ee","opacity":1,"line":{"color":"#1c1cc0","strokeWidth":1}}},
{"data":{"values":[{"w":0.231,"f":0},{"w":0.259,"f":0.042},{"w":0.287,"f":0.042},{"w":0.314,"f":0}]},"mark":{"type":"area","color":"#0f6a24","opacity":1,"line":{"color":"#1c1cc0","strokeWidth":1}}}
]},
{"width":22,"height":155,"data":{"values":[]},"mark":"point","encoding":{}}
]}
]
}
